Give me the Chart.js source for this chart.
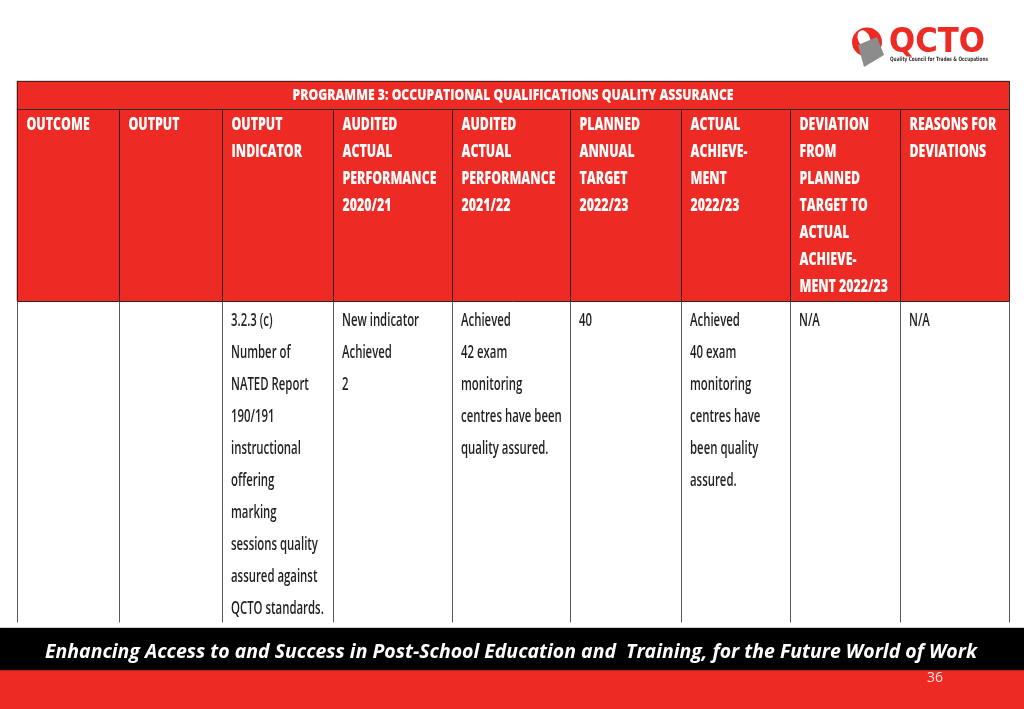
<!DOCTYPE html>
<html>
<head>
<meta charset="utf-8">
<script src="https://cdn.jsdelivr.net/npm/chart.js@4/dist/chart.umd.min.js"></script>
<style>
html, body { margin: 0; padding: 0; background: #fff; }
#slide { position: absolute; left: 0; top: 0; }
</style>
</head>
<body>
<canvas id="slide" width="1024" height="709" style="width:1024px;height:709px"></canvas>
<script>
// table content
var tableTitle = "PROGRAMME 3: OCCUPATIONAL QUALIFICATIONS QUALITY ASSURANCE";
var headerLines = [
	["OUTCOME"],
	["OUTPUT"],
	["OUTPUT", "INDICATOR"],
	["AUDITED", "ACTUAL", "PERFORMANCE", "2020/21"],
	["AUDITED", "ACTUAL", "PERFORMANCE", "2021/22"],
	["PLANNED", "ANNUAL", "TARGET", "2022/23"],
	["ACTUAL", "ACHIEVE-", "MENT", "2022/23"],
	["DEVIATION", "FROM", "PLANNED", "TARGET TO", "ACTUAL", "ACHIEVE-", "MENT 2022/23"],
	["REASONS FOR", "DEVIATIONS"]
];
var rowLines = [
	[],
	[],
	["3.2.3 (c)", "Number of", "NATED Report", "190/191", "instructional", "offering", "marking", "sessions quality", "assured against", "QCTO standards."],
	["New indicator", "Achieved", "2"],
	["Achieved", "42 exam", "monitoring", "centres have been", "quality assured."],
	["40"],
	["Achieved", "40 exam", "monitoring", "centres have", "been quality", "assured."],
	["N/A"],
	["N/A"]
];
var footerText = "Enhancing Access to and Success in Post-School Education and  Training, for the Future World of Work";
var pageNumber = "36";
var logoName = "QCTO";
var logoSub = "Quality Council for Trades & Occupations";

// layout (slide units = pixels of the 1024x709 slide)
var colEdges = [17, 119, 222, 333, 452, 570, 681, 790, 900, 1009];
var rowEdges = [81, 109, 301, 622];
var footerEdges = [628, 670, 709];
var RED = "#ed2a24";

function cellBars(y0, y1) {
	var out = [];
	for (var i = 0; i < colEdges.length - 1; i++) {
		out.push({ x: [colEdges[i], colEdges[i + 1]], y: (y0 + y1) / 2 });
	}
	return out;
}
function band(label, x0, x1, y0, y1, color) {
	return {
		label: label,
		data: [{ x: [x0, x1], y: (y0 + y1) / 2 }],
		backgroundColor: color,
		barThickness: y1 - y0,
		grouped: false,
		borderWidth: 0
	};
}

function drawScaled(ctx, str, x, y, sx) {
	ctx.save();
	ctx.translate(x, y);
	ctx.scale(sx, 1);
	ctx.fillText(str, 0, 0);
	ctx.restore();
}
function fitScale(ctx, font, ref, width) {
	ctx.font = font;
	return width / ctx.measureText(ref).width;
}

var tablePlugin = {
	id: "tablePlugin",
	afterDatasetsDraw: function(chart) {
		var ctx = chart.ctx;
		var xs = chart.scales.x, ys = chart.scales.y;
		var px = function(v) { return Math.round(xs.getPixelForValue(v)) + 0.5; };
		var py = function(v) { return Math.round(ys.getPixelForValue(v)) + 0.5; };
		var i, j;

		ctx.save();
		ctx.lineWidth = 1;
		// title frame
		ctx.strokeStyle = "#2b2b2b";
		ctx.strokeRect(px(colEdges[0]), py(rowEdges[0]), px(colEdges[9]) - px(colEdges[0]), py(rowEdges[1]) - py(rowEdges[0]));
		// header grid
		ctx.strokeStyle = "#3a1d1d";
		ctx.beginPath();
		for (i = 0; i < colEdges.length; i++) {
			ctx.moveTo(px(colEdges[i]), py(rowEdges[1]));
			ctx.lineTo(px(colEdges[i]), py(rowEdges[2]));
		}
		ctx.moveTo(px(colEdges[0]), py(rowEdges[2]));
		ctx.lineTo(px(colEdges[9]), py(rowEdges[2]));
		ctx.stroke();
		// body grid
		ctx.strokeStyle = "#5a5a5a";
		ctx.beginPath();
		for (i = 0; i < colEdges.length; i++) {
			ctx.moveTo(px(colEdges[i]), py(rowEdges[2]));
			ctx.lineTo(px(colEdges[i]), py(rowEdges[3]));
		}
		ctx.stroke();
		ctx.strokeStyle = "#d0d0d0";
		ctx.beginPath();
		ctx.moveTo(px(0), py(footerEdges[0] - 1));
		ctx.lineTo(px(1024), py(footerEdges[0] - 1));
		ctx.stroke();

		ctx.textAlign = "left";
		ctx.textBaseline = "alphabetic";

		// title
		var fTitle = "800 16.5px 'Open Sans'";
		var sTitle = fitScale(ctx, fTitle, tableTitle, 441);
		ctx.fillStyle = "#fff";
		var tw = ctx.measureText(tableTitle).width * sTitle;
		var mid = (xs.getPixelForValue(colEdges[0]) + xs.getPixelForValue(colEdges[9])) / 2;
		drawScaled(ctx, tableTitle, mid - tw / 2, ys.getPixelForValue(rowEdges[0] + 19), sTitle);

		// header text
		var fHead = "800 18px 'Open Sans'";
		var sHead = fitScale(ctx, fHead, "PERFORMANCE", 94);
		for (i = 0; i < headerLines.length; i++) {
			for (j = 0; j < headerLines[i].length; j++) {
				drawScaled(ctx, headerLines[i][j], xs.getPixelForValue(colEdges[i] + 9.5),
					ys.getPixelForValue(rowEdges[1] + 21 + j * 27), sHead);
			}
		}

		// body text
		var fBody = "600 18.5px 'Open Sans'";
		var sBody = fitScale(ctx, fBody, "New indicator", 77);
		ctx.fillStyle = "#231f20";
		for (i = 0; i < rowLines.length; i++) {
			for (j = 0; j < rowLines[i].length; j++) {
				drawScaled(ctx, rowLines[i][j], xs.getPixelForValue(colEdges[i] + 9),
					ys.getPixelForValue(rowEdges[2] + 25 + j * 32), sBody);
			}
		}

		// footer text
		var fFoot = "italic bold 19.5px 'Open Sans'";
		var sFoot = fitScale(ctx, fFoot, footerText, 932);
		ctx.fillStyle = "#fff";
		drawScaled(ctx, footerText, xs.getPixelForValue(45), ys.getPixelForValue(658), sFoot);

		ctx.font = "14px 'Open Sans'";
		ctx.fillStyle = "rgba(255,255,255,0.85)";
		ctx.fillText(pageNumber, xs.getPixelForValue(927), ys.getPixelForValue(681.5));

		// logo
		var lx = xs.getPixelForValue(867), ly = ys.getPixelForValue(42);
		ctx.fillStyle = RED;
		ctx.beginPath();
		ctx.ellipse(lx, ly, 15, 14.5, 0, 0, Math.PI * 2);
		ctx.fill();
		ctx.fillStyle = "#fff";
		ctx.beginPath();
		ctx.ellipse(lx - 3, ly - 3, 6, 9, -0.4, 0, Math.PI * 2);
		ctx.fill();
		ctx.fillStyle = "#8c8c8c";
		ctx.beginPath();
		ctx.moveTo(lx - 9, ly + 3);
		ctx.lineTo(lx + 10, ly - 5);
		ctx.lineTo(lx + 17, ly + 13);
		ctx.lineTo(lx - 3, ly + 25);
		ctx.closePath();
		ctx.fill();
		var fLogo = "bold 33px 'DejaVu Sans'";
		var sLogo = fitScale(ctx, fLogo, logoName, 96);
		ctx.fillStyle = RED;
		drawScaled(ctx, logoName, xs.getPixelForValue(889), ys.getPixelForValue(52), sLogo);
		var fSub = "bold 6px 'DejaVu Sans'";
		var sSub = fitScale(ctx, fSub, logoSub, 98);
		ctx.fillStyle = "#333";
		drawScaled(ctx, logoSub, xs.getPixelForValue(890), ys.getPixelForValue(60.5), sSub);
		ctx.restore();
	}
};

var slideCtx = document.getElementById("slide").getContext("2d");
new Chart(slideCtx, {
	type: "bar",
	data: {
		datasets: [
			band("title", colEdges[0], colEdges[9], rowEdges[0], rowEdges[1], RED),
			{
				label: "header",
				data: cellBars(rowEdges[1], rowEdges[2]),
				backgroundColor: RED,
				barThickness: rowEdges[2] - rowEdges[1],
				grouped: false,
				borderWidth: 0
			},
			{
				label: "body",
				data: cellBars(rowEdges[2], rowEdges[3]),
				backgroundColor: "#ffffff",
				barThickness: rowEdges[3] - rowEdges[2],
				grouped: false,
				borderWidth: 0
			},
			band("footer", 0, 1024, footerEdges[0], footerEdges[1], "#000000"),
			band("base", 0, 1024, footerEdges[1], footerEdges[2], RED)
		]
	},
	options: {
		indexAxis: "y",
		responsive: false,
		animation: false,
		layout: { padding: 0 },
		plugins: { legend: { display: false }, tooltip: { enabled: false } },
		scales: {
			x: { type: "linear", min: 0, max: 1024, offset: false, display: false },
			y: { type: "linear", min: 0, max: 709, reverse: true, offset: false, display: false }
		}
	},
	plugins: [tablePlugin]
});
</script>
</body>
</html>
